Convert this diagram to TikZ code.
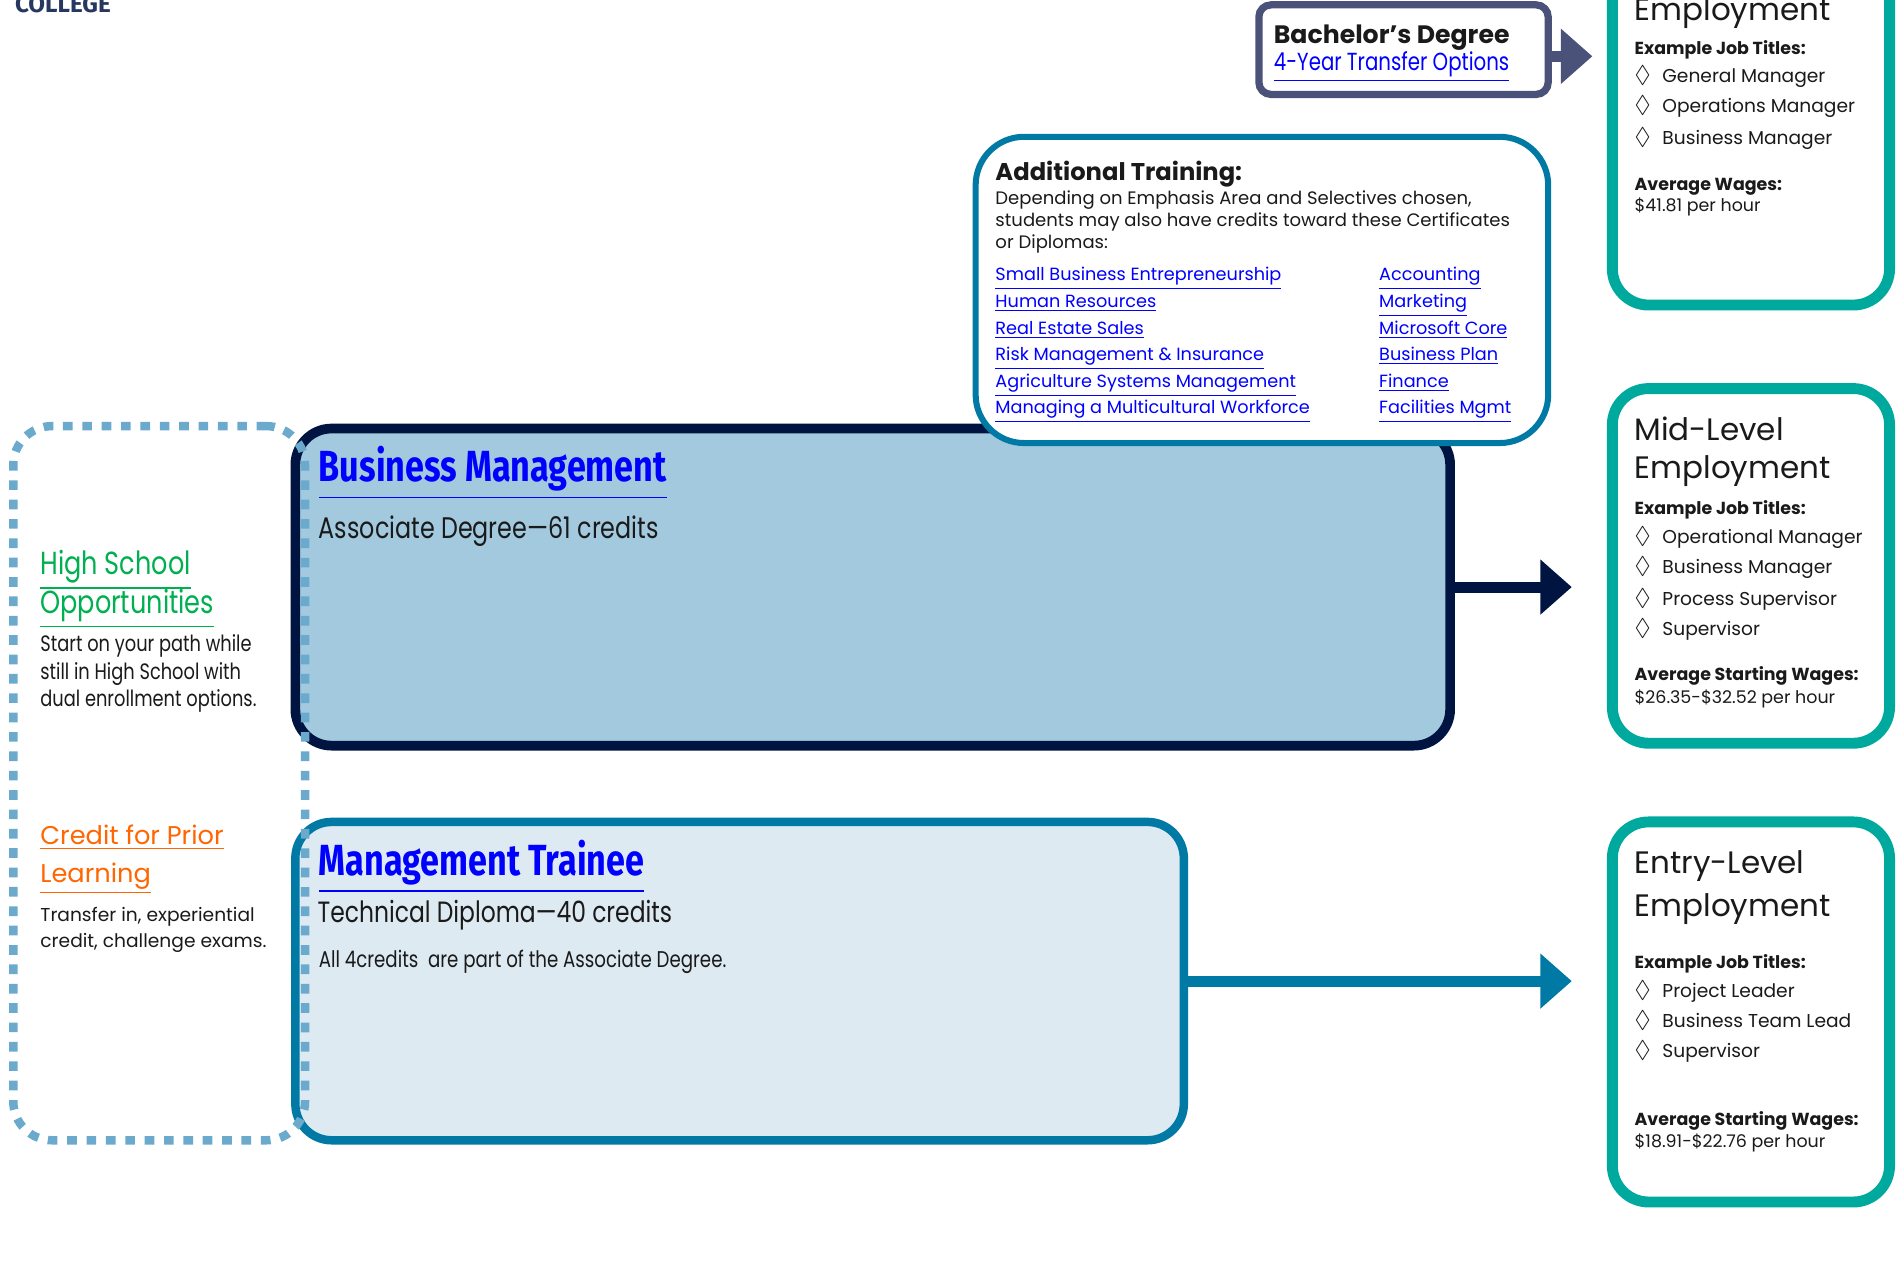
\documentclass[tikz,border=0pt]{standalone}
\usepackage{amssymb}
\usepackage{fontspec}
\setmainfont{Poppins}
\newfontfamily\narrowfont[FakeStretch=0.8]{Poppins}
\newfontfamily\condfont[FakeStretch=0.785]{Fira Sans}
\newfontfamily\logofont{Fira Sans}
\usetikzlibrary{arrows.meta,shapes,positioning}
\definecolor{navy}{RGB}{0,20,66}
\definecolor{bmfill}{RGB}{163,201,223}
\definecolor{petrol}{RGB}{0,121,164}
\definecolor{mtfill}{RGB}{222,234,242}
\definecolor{slate}{RGB}{75,82,121}
\definecolor{jobteal}{RGB}{0,169,157}
\definecolor{dots}{RGB}{107,170,204}
\definecolor{linkblue}{RGB}{0,0,255}
\definecolor{hsgreen}{RGB}{0,176,80}
\definecolor{cplorange}{RGB}{255,102,0}
\definecolor{logoblue}{RGB}{38,56,96}
\definecolor{ink}{RGB}{26,26,26}
\tikzstyle{program}=[rectangle,rounded corners=15pt,inner sep=0pt]
\tikzstyle{degree box}=[program,draw=navy,fill=bmfill,line width=4pt]
\tikzstyle{diploma box}=[program,draw=petrol,fill=mtfill,line width=3.5pt]
\tikzstyle{training box}=[program,draw=petrol,fill=white,line width=2.5pt,rounded corners=20pt]
\tikzstyle{transfer box}=[program,draw=slate,fill=white,line width=3pt,rounded corners=5pt]
\tikzstyle{job box}=[program,draw=jobteal,fill=white,line width=4.5pt]
\tikzstyle{onramp box}=[program,draw=dots,line width=3.5pt,dash pattern=on 4pt off 4pt,rounded corners=16pt]
\tikzstyle{body text}=[anchor=base west,inner sep=0pt,text=ink]
\tikzstyle{link text}=[body text,text=linkblue]
\tikzstyle{flow arrow}=[line width=4.5pt,-{Triangle[length=13pt,width=22pt]}]
\newcommand{\lnk}[1]{\underline{#1}}
\newcommand{\jobfont}{\fontsize{7.7}{7.7}\selectfont}
\newcommand{\payfont}{\fontsize{7.2}{7.2}\selectfont}
\newcommand{\jobhead}{\bfseries\fontsize{7.2}{7.2}\selectfont}
\newcommand{\levelfont}{\fontsize{12.8}{12.8}\selectfont}
\newcommand{\bulletfont}{\fontsize{10}{10}\selectfont}
\begin{document}
\begin{tikzpicture}[x=0.5pt,y=-0.5pt]
    \useasboundingbox (0,0) rectangle (1568,1041);
    \clip (0,0) rectangle (1568,1041);
    % logo, cut by the top edge
    \node[body text,text=logoblue,font=\logofont\bfseries\fontsize{10}{10}\selectfont] (logo) at (12,10) {COLLEGE};

    % First we draw the boxes
    \node[degree box,minimum width=477pt,minimum height=131pt] (bm) at (721,485) {};
    \node[diploma box,minimum width=367pt,minimum height=131.5pt] (mt) at (611,810.5) {};
    \node[training box,minimum width=236.5pt,minimum height=126.5pt] (train) at (1042.5,239.5) {};
    \node[transfer box,minimum width=119.5pt,minimum height=37pt] (ba) at (1159.5,41) {};
    \node[job box,minimum width=114.5pt,minimum height=176pt] (upper) at (1446.5,76) {};
    \node[job box,minimum width=114.5pt,minimum height=146.5pt] (mid) at (1446.5,467.5) {};
    \node[job box,minimum width=114.5pt,minimum height=157pt] (entry) at (1446.5,836) {};
    \node[onramp box,minimum width=120.5pt,minimum height=295pt] (ramp) at (131.5,647) {};

    % Connect boxes with arrows
    \draw[flow arrow,navy,shorten >=14.5pt] (bm.east) -- (bm.east -| mid.west);
    \draw[flow arrow,petrol,shorten >=14.5pt] (mt.east) -- (mt.east -| entry.west);
    \draw[flow arrow,slate,shorten >=6pt] ([yshift=-2.75pt]ba.east) -- ([yshift=-2.75pt]ba.east -| upper.west);

    % left column
    \node[body text,text=hsgreen,font=\narrowfont\fontsize{13.2}{13.2}\selectfont] (hs1) at (33,475) {\lnk{High School}};
    \node[body text,text=hsgreen,font=\narrowfont\fontsize{13.2}{13.2}\selectfont] (hs2) at (33,507) {\lnk{Opportunities}};
    \foreach \y/\t [count=\i] in {538/Start on your path while, 561/still in High School with, 584/dual enrollment options.}
        \node[body text,font=\narrowfont\fontsize{9.2}{9.2}\selectfont] (hstext\i) at (33,\y) {\t};
    \node[body text,text=cplorange,font=\fontsize{10.6}{10.6}\selectfont] (cpl1) at (33,698) {\lnk{Credit for Prior}};
    \node[body text,text=cplorange,font=\fontsize{10.6}{10.6}\selectfont] (cpl2) at (33,729) {\lnk{Learning}};
    \foreach \y/\t [count=\i] in {761/{Transfer in, experiential}, 783/{credit, challenge exams.}}
        \node[body text,font=\fontsize{7.7}{7.7}\selectfont] (cpltext\i) at (33,\y) {\t};

    % program texts
    \node[link text,font=\condfont\bfseries\fontsize{18}{18}\selectfont] (bmtitle) at (263,398) {\lnk{Business Management}};
    \node[body text,font=\narrowfont\fontsize{12.3}{12.3}\selectfont] (bmcred) at (263,445) {Associate Degree—61 credits};
    \node[link text,font=\condfont\bfseries\fontsize{18}{18}\selectfont] (mttitle) at (263,723) {\lnk{Management Trainee}};
    \node[body text,font=\narrowfont\fontsize{12.1}{12.1}\selectfont] (mtcred) at (262,762) {Technical Diploma—40 credits};
    \node[body text,font=\narrowfont\fontsize{9.4}{9.4}\selectfont] (mtnote) at (263,799) {All 4credits\ \ are part of the Associate Degree.};

    % additional training
    \node[body text,font=\bfseries\fontsize{10}{10}\selectfont] (trainhead) at (822,149) {Additional Training:};
    \foreach \y/\t [count=\i] in {169/{Depending on Emphasis Area and Selectives chosen,}, 187/students may also have credits toward these Certificates, 205/or Diplomas:}
        \node[body text,font=\fontsize{7.45}{7.45}\selectfont] (traintext\i) at (822,\y) {\t};
    \foreach \y/\lname/\rname [count=\i] in {232/Small Business Entrepreneurship/Accounting, 254/Human Resources/Marketing, 276/Real Estate Sales/Microsoft Core, 298/Risk Management \& Insurance/Business Plan, 320/Agriculture Systems Management/Finance, 342/Managing a Multicultural Workforce/Facilities Mgmt} {
        \node[link text,font=\fontsize{7.3}{7.3}\selectfont] (certa\i) at (822,\y) {\lnk{\lname}};
        \node[link text,font=\fontsize{7.3}{7.3}\selectfont] (certb\i) at (1139,\y) {\lnk{\rname}};
    }

    % bachelor
    \node[body text,font=\bfseries\fontsize{10.4}{10.4}\selectfont] (bahead) at (1052,36) {Bachelor’s Degree};
    \node[link text,font=\narrowfont\fontsize{10.2}{10.2}\selectfont] (balink) at (1052,58) {\lnk{4-Year Transfer Options}};

    % upper employment
    \node[body text,font=\levelfont] (upperh) at (1350,17) {Employment};
    \node[body text,font=\jobhead] (upperex) at (1350,45) {Example Job Titles:};
    \foreach \y/\t [count=\i] in {68/General Manager, 93/Operations Manager, 119/Business Manager} {
        \node[body text,font=\bulletfont] (upperd\i) at (1350,\y) {$\lozenge$};
        \node[body text,font=\jobfont] (upperj\i) at (1373,\y) {\t};
    }
    \node[body text,font=\jobhead] (upperw) at (1350,157) {Average Wages:};
    \node[body text,font=\payfont] (upperpay) at (1350,175) {\$41.81 per hour};

    % mid-level employment
    \node[body text,font=\levelfont] (midh1) at (1350,364) {Mid-Level};
    \node[body text,font=\levelfont] (midh2) at (1350,395) {Employment};
    \node[body text,font=\jobhead] (midex) at (1350,425) {Example Job Titles:};
    \foreach \y/\t [count=\i] in {449/Operational Manager, 474/Business Manager, 500/Process Supervisor, 525/Supervisor} {
        \node[body text,font=\bulletfont] (midd\i) at (1350,\y) {$\lozenge$};
        \node[body text,font=\jobfont] (midj\i) at (1373,\y) {\t};
    }
    \node[body text,font=\jobhead] (midw) at (1350,562) {Average Starting Wages:};
    \node[body text,font=\payfont] (midpay) at (1350,581) {\$26.35-\$32.52 per hour};

    % entry-level employment
    \node[body text,font=\levelfont] (entryh1) at (1350,722) {Entry-Level};
    \node[body text,font=\levelfont] (entryh2) at (1350,757) {Employment};
    \node[body text,font=\jobhead] (entryex) at (1350,800) {Example Job Titles:};
    \foreach \y/\t [count=\i] in {824/Project Leader, 849/Business Team Lead, 874/Supervisor} {
        \node[body text,font=\bulletfont] (entryd\i) at (1350,\y) {$\lozenge$};
        \node[body text,font=\jobfont] (entryj\i) at (1373,\y) {\t};
    }
    \node[body text,font=\jobhead] (entryw) at (1350,930) {Average Starting Wages:};
    \node[body text,font=\payfont] (entrypay) at (1350,948) {\$18.91-\$22.76 per hour};
\end{tikzpicture}
\end{document}
